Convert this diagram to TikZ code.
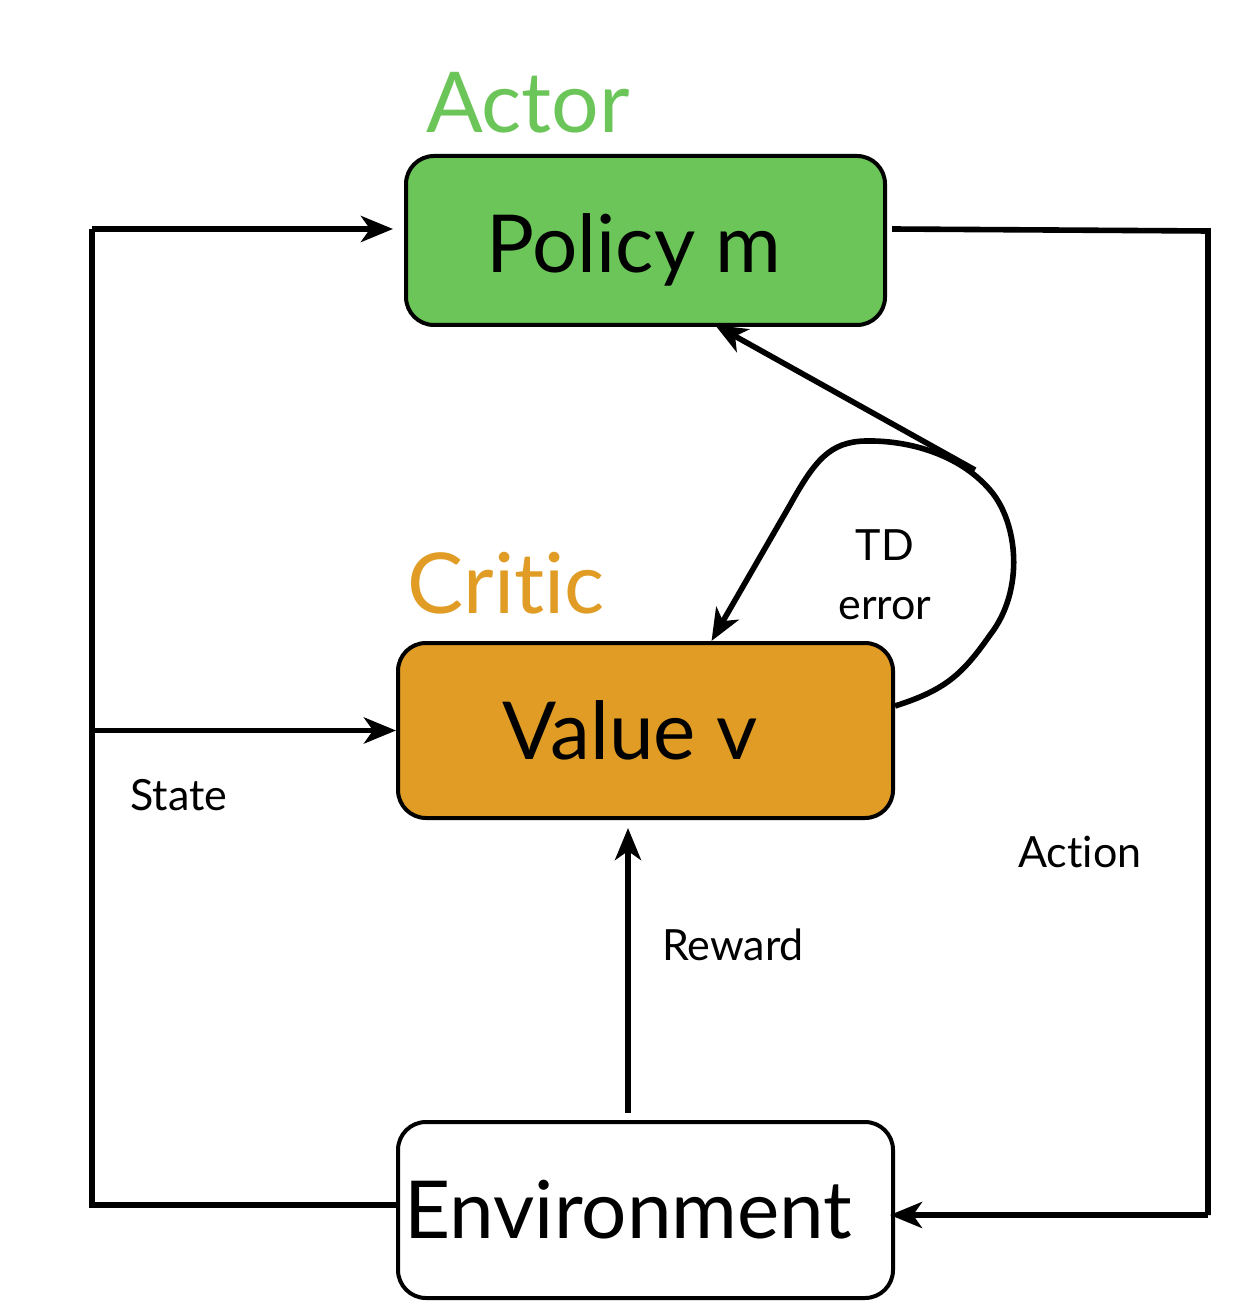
\documentclass[tikz,border=0pt]{standalone}
\usepackage{fontspec}
\setmainfont{Lato}[Ligatures=NoCommon]
\usetikzlibrary{arrows.meta}

\definecolor{actorgreen}{RGB}{108,197,88}
\definecolor{criticorange}{RGB}{224,156,36}

\tikzset{
  block/.style={draw=black, line width=2pt, rounded corners=14pt, inner sep=0pt,
    font=\fontsize{40}{44}\selectfont},
  flow/.style={line width=2.8pt, -{Stealth[length=16pt,width=13pt,inset=4.5pt]}},
  plain/.style={line width=2.8pt},
  biglabel/.style={font=\fontsize{42}{46}\selectfont},
  smalllabel/.style={font=\fontsize{21.5}{29.5}\selectfont, align=center}
}

\begin{document}
\begin{tikzpicture}[x=0.5pt,y=0.5pt,yscale=-1,xscale=1]
	\useasboundingbox (0,0) rectangle (1242,1309);

	%Shape: Rounded Rect [id:policy]
	\node [block, fill=actorgreen, minimum width=239.5pt, minimum height=84.5pt] (policy) at (645.5,240.5) {\raisebox{-4.5pt}[\height][\depth]{Policy m}\hspace*{11.5pt}};
	%Shape: Rounded Rect [id:value]
	\node [block, fill=criticorange, minimum width=247.5pt, minimum height=87.5pt] (value) at (645.5,730.5) {Value v\hspace*{15.5pt}};
	%Shape: Rounded Rect [id:env]
	\node [block, fill=white, minimum width=247.5pt, minimum height=88pt] (env) at (645.5,1210) {Environment\hspace*{17pt}};

	% Corners of the loops
	\coordinate (stateBottom) at (92,1205);
	\coordinate (stateMid) at (92,730.5);
	\coordinate (stateTop) at (92,229);
	\coordinate (actionTop) at (1208,231);
	\coordinate (actionBottom) at (1208,1215);
	\coordinate (tdTop) at (975,470);

	%Straight Lines [id:state]
	\draw [plain] ([yshift=-2.5pt]env.west) -- (stateBottom) -- (stateTop);
	\draw [flow, shorten >=5.5pt] (stateTop) -- ([yshift=-5.75pt]policy.west);
	\draw [flow] (stateMid) -- (value.west);
	%Straight Lines [id:action]
	\draw [plain] ([xshift=2.5pt,yshift=-5.75pt]policy.east) -- (actionTop) -- (actionBottom);
	\draw [flow] (actionBottom) -- ([xshift=-2.5pt,yshift=2.5pt]env.east);
	%Straight Lines [id:reward]
	\draw [flow] ([xshift=-8.75pt,yshift=-3.5pt]env.north) -- ([xshift=-8.75pt,yshift=4pt]value.south);
	%Curve Lines [id:tderror]
	\draw [flow] ([yshift=-12.25pt]value.east) .. controls (945,690) and (962,675) .. (990,635) .. controls (1025,590) and (1018,522) .. (990,490) .. controls (960,455) and (910,440) .. (865,441) .. controls (830,442) and (815,460) .. (790,505) -- ([xshift=33pt]value.north);
	\draw [flow] (tdTop) -- ([xshift=34.75pt,yshift=-1pt]policy.south);

	% Text Node
	\node [biglabel, text=actorgreen] (actorLabel) at (528,103) {Actor};
	% Text Node
	\node [biglabel, text=criticorange] (criticLabel) at (506,583) {Critic};
	% Text Node
	\node [smalllabel] (stateLabel) at (179,795) {State};
	% Text Node
	\node [smalllabel] (rewardLabel) at (733,945) {Reward};
	% Text Node
	\node [smalllabel] (actionLabel) at (1080,852) {Action};
	% Text Node
	\node [smalllabel] (tdLabel) at (885,575) {TD\\error};
\end{tikzpicture}
\end{document}
